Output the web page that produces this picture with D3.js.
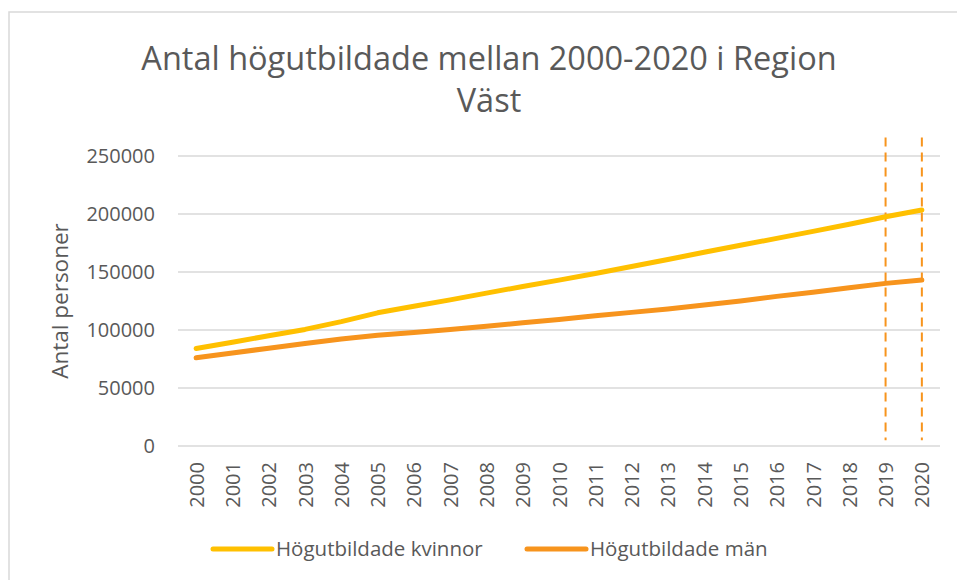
<!DOCTYPE html>
<html><head><meta charset="utf-8">
<script src="https://cdn.jsdelivr.net/npm/d3@7"></script>
<style>body{margin:0;background:#fff}svg{display:block}text{font-family:"Open Sans",sans-serif;fill:#595959}</style>
</head><body><svg id="c" width="957" height="580"></svg>
<script>
const years = ["2000","2001","2002","2003","2004","2005","2006","2007","2008","2009","2010","2011","2012","2013","2014","2015","2016","2017","2018","2019","2020"];
const kvinnor = [84000,89500,95000,100500,107200,114800,120500,126000,131800,137500,143000,148700,154700,160800,167000,173000,179000,185000,191200,197600,203400];
const man = [76000,80200,84300,88300,92200,95500,97800,100500,103300,106200,109100,112200,115200,118200,121600,125000,129000,132500,136500,140200,143100];
const yTicks = [0,50000,100000,150000,200000,250000];
const seriesNames = ["Högutbildade kvinnor","Högutbildade män"];
const colors = ["#FFC000","#F7941D"];
const markerYears = ["2019","2020"];
const titleLines = ["Antal högutbildade mellan 2000-2020 i Region","Väst"];

const svg = d3.select("#c");
svg.append("rect").attr("x",9).attr("y",12).attr("width",1000).attr("height",620)
  .attr("fill","#fff").attr("stroke","#d9d9d9").attr("stroke-width",1.5);

const x = d3.scalePoint().domain(years).range([178,940]).padding(0.5);
const y = d3.scaleLinear().domain([0,250000]).range([446,156]);

// gridlines
svg.append("g").selectAll("line").data(yTicks).join("line")
  .attr("x1",178).attr("x2",940).attr("y1",d=>y(d)).attr("y2",d=>y(d))
  .attr("stroke","#d9d9d9").attr("stroke-width",1.5);

// y axis labels
const ya = svg.append("g").attr("transform","translate(178,0)")
  .call(d3.axisLeft(y).tickValues(yTicks).tickFormat(d3.format("d")).tickSize(0).tickPadding(23));
ya.select(".domain").remove();
ya.selectAll("text").attr("font-size",20).attr("font-family","Open Sans").attr("fill","#595959");

// x axis labels
const xa = svg.append("g").attr("transform","translate(0,446)")
  .call(d3.axisBottom(x).tickSize(0));
xa.select(".domain").remove();
xa.selectAll("text").attr("font-size",20).attr("font-family","Open Sans").attr("fill","#595959")
  .attr("text-anchor","end").attr("transform","rotate(-90)")
  .attr("x",-16).attr("y",0).attr("dy","0.35em");

// dashed markers
svg.append("g").selectAll("line").data(markerYears).join("line")
  .attr("x1",d=>x(d)).attr("x2",d=>x(d)).attr("y1",y(266000)).attr("y2",y(5000))
  .attr("stroke",colors[1]).attr("stroke-width",2).attr("stroke-dasharray","9,6");

// lines
const line = d3.line().x((d,i)=>x(years[i])).y(d=>y(d));
[kvinnor,man].forEach((s,i)=>{
  svg.append("path").datum(s).attr("d",line).attr("fill","none")
    .attr("stroke",colors[i]).attr("stroke-width",5)
    .attr("stroke-linecap","round").attr("stroke-linejoin","round");
});

// title
svg.append("g").selectAll("text").data(titleLines).join("text")
  .attr("x",489).attr("y",(d,i)=>70+i*42).attr("text-anchor","middle")
  .attr("font-size",32.5).text(d=>d);

// y axis title
svg.append("text").attr("transform","translate(68,301) rotate(-90)")
  .attr("text-anchor","middle").attr("font-size",22.5).text("Antal personer");

// legend
const legX = [213,527];
const lg = svg.append("g").selectAll("g").data(seriesNames).join("g")
  .attr("transform",(d,i)=>`translate(${legX[i]},549)`);
lg.append("line").attr("x1",0).attr("x2",59).attr("y1",0).attr("y2",0)
  .attr("stroke",(d,i)=>colors[i]).attr("stroke-width",5).attr("stroke-linecap","round");
lg.append("text").attr("x",63).attr("y",0).attr("dy","0.35em").attr("font-size",20.5).text(d=>d);
</script></body></html>
